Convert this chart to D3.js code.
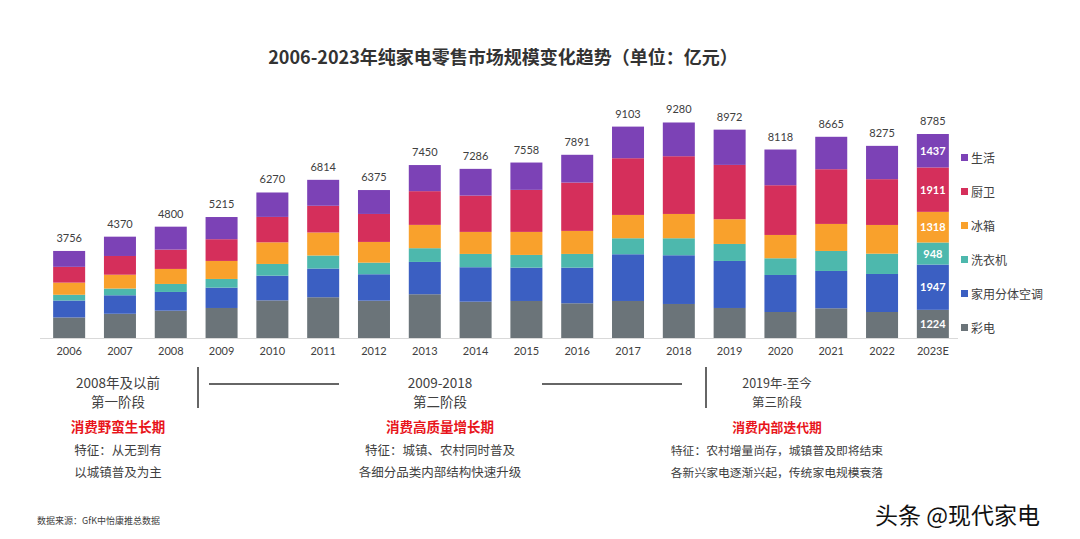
<!DOCTYPE html>
<html><head><meta charset="utf-8">
<script src="https://cdn.jsdelivr.net/npm/d3@7/dist/d3.min.js"></script>
<style>
html,body{margin:0;padding:0;background:#fff;}
svg{display:block;font-family:"Noto Sans CJK SC","Noto Sans",sans-serif;}
</style></head>
<body>
<svg id="chart" width="1080" height="539"></svg>
<script>
const years = ["2006","2007","2008","2009","2010","2011","2012","2013","2014","2015","2016","2017","2018","2019","2020","2021","2022","2023E"];
const totals = [3756,4370,4800,5215,6270,6814,6375,7450,7286,7558,7891,9103,9280,8972,8118,8665,8275,8785];
const seriesNames = ["彩电","家用分体空调","洗衣机","冰箱","厨卫","生活"];
const tv      = [897,1055,1188,1304,1630,1765,1618,1894,1575,1605,1506,1605,1476,1304,1131,1291,1131,1224];
const ac      = [727,795,805,874,1063,1235,1136,1390,1481,1433,1532,2009,2095,2022,1592,1605,1635,1947];
const washer  = [248,290,344,374,504,560,499,590,572,547,590,688,731,731,718,860,873,948];
const fridge  = [522,594,646,775,930,990,891,1003,947,990,990,1003,1045,1063,1003,1162,1235,1318];
const kitchen = [679,806,831,934,1093,1149,1203,1450,1562,1808,2079,2439,2483,2336,2138,2353,1969,1911];
const living  = [683,830,986,954,1050,1115,1028,1123,1149,1175,1194,1359,1450,1516,1536,1394,1432,1437];
const colors = ["#6b7479","#3b5fc2","#4db8ad","#f9a12c","#d52f5b","#7c42b6"];

const svg = d3.select("#chart");
const table = years.map((y,i)=>({year:y,"彩电":tv[i],"家用分体空调":ac[i],"洗衣机":washer[i],"冰箱":fridge[i],"厨卫":kitchen[i],"生活":living[i]}));
const stacked = d3.stack().keys(seriesNames)(table);

const x = d3.scaleBand().domain(years).range([44,958]).paddingInner(0.37).paddingOuter(0.18);
const y = d3.scaleLinear().domain([0,8785]).range([338.3,134]);

// title
svg.append("text").attr("x",503).attr("y",64).attr("text-anchor","middle")
  .attr("font-size",18).attr("font-weight","bold").attr("fill","#333")
  .text("2006-2023年纯家电零售市场规模变化趋势（单位：亿元）");

// bars
const g = svg.append("g");
stacked.forEach((s,k)=>{
  g.selectAll(null).data(s).enter().append("rect")
    .attr("x",d=>x(d.data.year)).attr("width",x.bandwidth())
    .attr("y",d=>y(d[1])).attr("height",d=>y(d[0])-y(d[1]))
    .attr("fill",colors[k]);
});

// axis
const axis = d3.axisBottom(x).tickSize(0).tickPadding(9);
const ax = svg.append("g").attr("transform","translate(0,338.5)").call(axis);
ax.select(".domain").attr("stroke","#d9d9d9").attr("d","M40,0H958");
ax.selectAll("text").attr("font-size",11).attr("fill","#404040").attr("font-family","Lato,'Noto Sans',sans-serif");

// totals
svg.selectAll(".tot").data(years).enter().append("text")
  .attr("x",d=>x(d)+x.bandwidth()/2).attr("y",(d,i)=>y(totals[i])-9)
  .attr("text-anchor","middle").attr("font-size",11).attr("fill","#404040")
  .attr("font-family","Lato,'Noto Sans',sans-serif").text((d,i)=>totals[i]);

// 2023E inner labels
const last = years.length-1;
stacked.forEach((s,k)=>{
  const d = s[last];
  svg.append("text").attr("x",x(years[last])+x.bandwidth()/2).attr("y",(y(d[0])+y(d[1]))/2+4)
    .attr("text-anchor","middle").attr("font-size",11).attr("font-weight","bold").attr("fill","#fff")
    .attr("font-family","Lato,'Noto Sans',sans-serif").text(d[1]-d[0]);
});

// legend
const legY = [328,294,260,226,192,158];
seriesNames.forEach((n,k)=>{
  svg.append("rect").attr("x",961).attr("y",legY[k]-4).attr("width",7).attr("height",7).attr("fill",colors[k]);
  svg.append("text").attr("x",971).attr("y",legY[k]+4.5).attr("font-size",12).attr("fill","#404040").text(n);
});

// stages
const stages = [
  {cx:118, t1:"2008年及以前", t2:"第一阶段", r:"消费野蛮生长期", f1:"特征：从无到有", f2:"以城镇普及为主", hs:13.5, rs:13.5, fs:12.5},
  {cx:440, t1:"2009-2018", t2:"第二阶段", r:"消费高质量增长期", f1:"特征：城镇、农村同时普及", f2:"各细分品类内部结构快速升级", hs:13.5, rs:13.5, fs:12.5},
  {cx:777, t1:"2019年-至今", t2:"第三阶段", r:"消费内部迭代期", f1:"特征：农村增量尚存，城镇普及即将结束", f2:"各新兴家电逐渐兴起，传统家电规模衰落", hs:12.5, rs:12.8, fs:11.8}
];
stages.forEach(s=>{
  const t = (txt,yy,size,fill,w)=>svg.append("text").attr("x",s.cx).attr("y",yy).attr("text-anchor","middle")
    .attr("font-size",size).attr("fill",fill).attr("font-weight",w||"normal").text(txt);
  t(s.t1,388,s.hs,"#404040");
  t(s.t2,407,s.hs,"#404040");
  t(s.r,432,s.rs,"#e8141b","bold");
  t(s.f1,455,s.fs,"#404040");
  t(s.f2,477,s.fs,"#404040");
});
svg.append("line").attr("x1",198).attr("x2",198).attr("y1",367).attr("y2",408).attr("stroke","#333").attr("stroke-width",1.5);
svg.append("line").attr("x1",706).attr("x2",706).attr("y1",367).attr("y2",408).attr("stroke","#333").attr("stroke-width",1.5);
svg.append("line").attr("x1",209).attr("x2",339).attr("y1",384).attr("y2",384).attr("stroke","#333").attr("stroke-width",1.5);
svg.append("line").attr("x1",542).attr("x2",682).attr("y1",384).attr("y2",384).attr("stroke","#333").attr("stroke-width",1.5);

// source
svg.append("text").attr("x",37).attr("y",524).attr("font-size",9).attr("fill","#404040").text("数据来源：GfK中怡康推总数据");

// watermark
svg.append("text").attr("x",1040).attr("y",524).attr("text-anchor","end").attr("font-size",23)
  .attr("fill","#111").attr("stroke","#fff").attr("stroke-width",3).attr("paint-order","stroke")
  .text("头条 @现代家电");
</script>
</body></html>
